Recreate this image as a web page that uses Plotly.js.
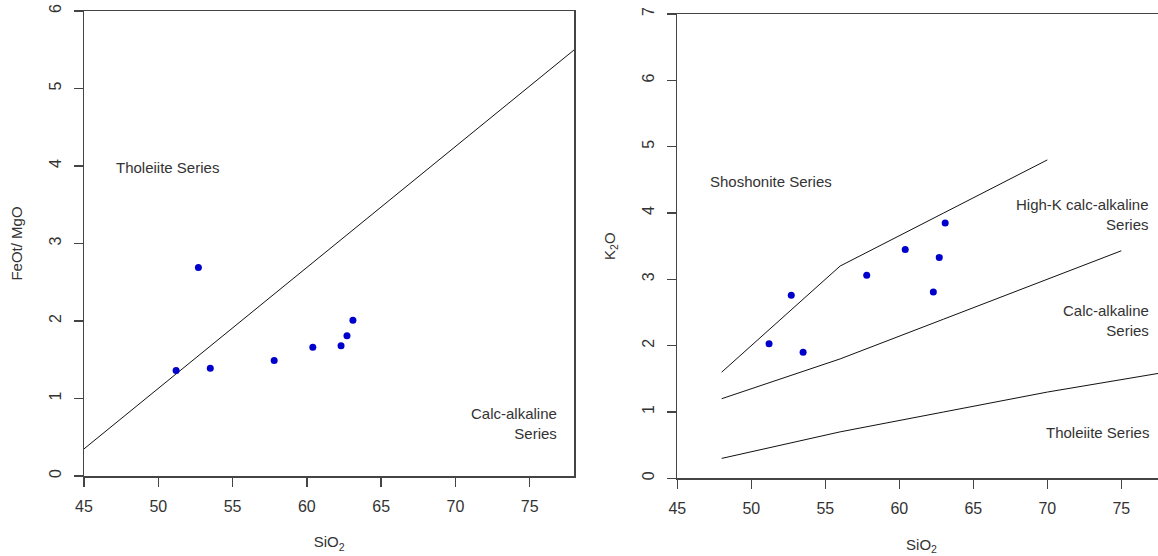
<!DOCTYPE html>
<html>
<head>
<meta charset="utf-8">
<script src="https://cdn.plot.ly/plotly-3.0.1.min.js"></script>
<style>
html,body{margin:0;padding:0;overflow:hidden;background:#fff;}
#chart{width:1180px;height:556px;}
</style>
</head>
<body>
<div id="chart"></div>
<script>
// Sample data
var sio2    = [51.2, 52.7, 53.5, 57.8, 60.4, 62.3, 62.7, 63.1];
var feoMgo  = [1.36, 2.69, 1.39, 1.49, 1.66, 1.68, 1.81, 2.01];
var k2o     = [2.03, 2.76, 1.90, 3.06, 3.45, 2.81, 3.33, 3.85];

// Left diagram boundary (Tholeiite / Calc-alkaline)
var thCaX = [45, 78];
var thCaY = [0.35, 5.5];

// Right diagram boundaries
var shoX = [48, 56, 63, 70];
var shoY = [1.6, 3.2, 4.0, 4.8];
var hkX  = [48, 56, 63, 70, 75];
var hkY  = [1.2, 1.8, 2.4, 3.0, 3.43];
var caX  = [48, 56, 63, 70, 78];
var caY  = [0.3, 0.7, 1.0, 1.3, 1.6];

var xTicks = [45, 50, 55, 60, 65, 70, 75];
var yTicksL = [0, 1, 2, 3, 4, 5, 6];
var yTicksR = [0, 1, 2, 3, 4, 5, 6, 7];

var FONT = 'Liberation Sans, Arial, sans-serif';
var TXT = '#333';
var LINE = '#444';
var W = 1180, H = 556;

function px(v){ return v / W; }
function py(top, bottom){ return [(H - bottom) / H, (H - top) / H]; }

var lineStyle = {color: '#111', width: 1};
var markerStyle = {color: '#0000CC', size: 7};

var traces = [
  {x: thCaX, y: thCaY, mode: 'lines', line: lineStyle, xaxis: 'x', yaxis: 'y', hoverinfo: 'skip'},
  {x: sio2, y: feoMgo, mode: 'markers', marker: markerStyle, xaxis: 'x', yaxis: 'y'},
  {x: shoX, y: shoY, mode: 'lines', line: lineStyle, xaxis: 'x2', yaxis: 'y2', hoverinfo: 'skip'},
  {x: hkX, y: hkY, mode: 'lines', line: lineStyle, xaxis: 'x2', yaxis: 'y2', hoverinfo: 'skip'},
  {x: caX, y: caY, mode: 'lines', line: lineStyle, xaxis: 'x2', yaxis: 'y2', hoverinfo: 'skip'},
  {x: sio2, y: k2o, mode: 'markers', marker: markerStyle, xaxis: 'x2', yaxis: 'y2'}
];

function xAxis(dom, anchor){
  return {
    domain: dom, anchor: anchor, range: [45, 78], tickvals: xTicks,
    showgrid: false, zeroline: false, showline: true, mirror: true,
    linecolor: LINE, linewidth: 1.5, ticks: 'outside', ticklen: 9,
    tickwidth: 1.5, tickcolor: LINE, ticklabelstandoff: 6,
    tickfont: {family: FONT, size: 16, color: TXT},
    title: {text: 'SiO<sub>2</sub>', font: {family: FONT, size: 15, color: TXT}, standoff: 23},
    automargin: false, fixedrange: true
  };
}
function yAxis(dom, anchor, maxv, ticks, title){
  return {
    domain: dom, anchor: anchor, range: [0, maxv], tickvals: ticks,
    showgrid: false, zeroline: false, showline: true, mirror: true,
    linecolor: LINE, linewidth: 1.5, ticks: 'outside', ticklen: 9,
    tickwidth: 1.5, tickcolor: LINE, tickangle: -90, ticklabelstandoff: 6,
    tickfont: {family: FONT, size: 16, color: TXT},
    title: {text: title, font: {family: FONT, size: 15, color: TXT}, standoff: 21},
    automargin: false, fixedrange: true
  };
}

var ann = function(text, xref, yref, x, y, xanchor, align){
  return {text: text, xref: xref, yref: yref, x: x, y: y, xanchor: xanchor,
    yanchor: 'middle', align: align, showarrow: false,
    font: {family: FONT, size: 15, color: TXT}};
};

var layout = {
  width: W, height: H,
  margin: {l: 0, r: 0, t: 0, b: 0},
  paper_bgcolor: '#fff', plot_bgcolor: '#fff',
  showlegend: false,
  xaxis: xAxis([px(84), px(574.3)], 'y'),
  yaxis: yAxis(py(11, 476), 'x', 6, yTicksL, 'FeOt/ MgO'),
  xaxis2: xAxis([px(677.3), px(1165.7)], 'y2'),
  yaxis2: yAxis(py(14, 478.3), 'x2', 7, yTicksR, 'K<sub>2</sub>O'),
  annotations: [
    ann('Tholeiite Series', 'x', 'y', 47.0, 3.98, 'left', 'left'),
    ann('Calc-alkaline<br>Series', 'x', 'y', 76.95, 0.68, 'right', 'right'),
    ann('Shoshonite Series', 'x2', 'y2', 47.05, 4.47, 'left', 'left'),
    ann('High-K calc-alkaline<br>Series', 'x2', 'y2', 77.0, 3.97, 'right', 'right'),
    ann('Calc-alkaline<br>Series', 'x2', 'y2', 77.0, 2.38, 'right', 'right'),
    ann('Tholeiite Series', 'x2', 'y2', 77.0, 0.69, 'right', 'right')
  ]
};

Plotly.newPlot('chart', traces, layout, {displayModeBar: false, staticPlot: true});
</script>
</body>
</html>
